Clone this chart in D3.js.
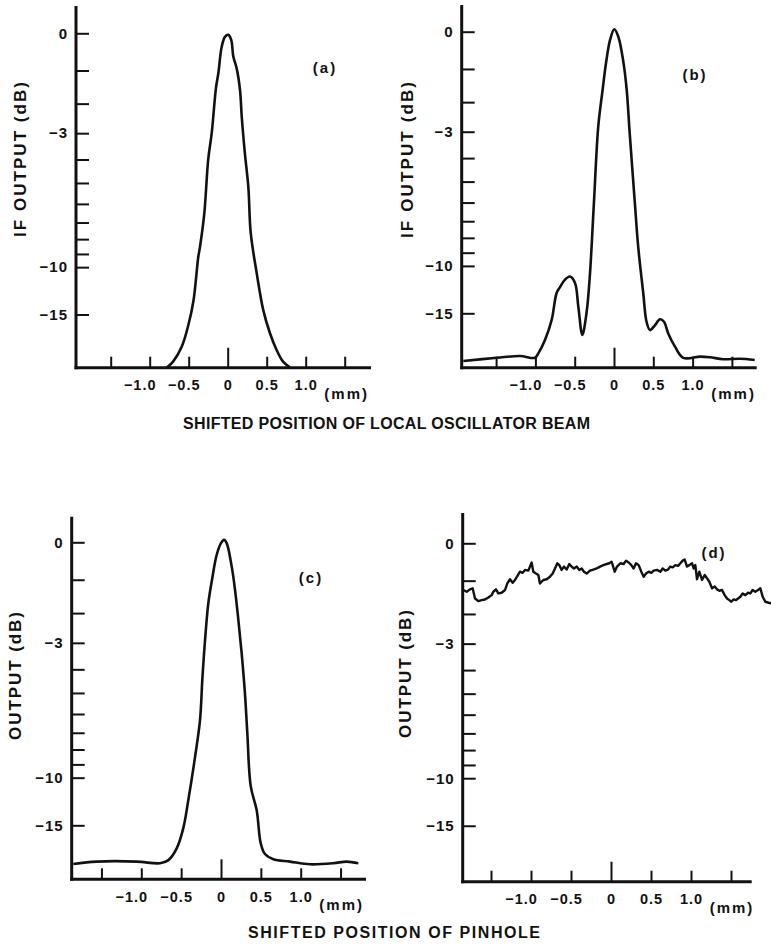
<!DOCTYPE html>
<html>
<head>
<meta charset="utf-8">
<script src="https://cdn.jsdelivr.net/npm/d3@7/dist/d3.min.js"></script>
<style>
  body { margin: 0; background: #fff; }
  text { font-family: "Liberation Sans", Arial, sans-serif; font-weight: bold; fill: #111; }
</style>
</head>
<body>
<div id="chart"></div>
<script>
const width = 771, height = 950;

// axis ticks
const dbTicks = [0, -1, -2, -3, -4, -5, -6, -7, -8, -9, -10, -15];
const dbLabels = [0, -3, -10, -15];
const mmTicks = [-1.5, -1, -0.5, 0, 0.5, 1, 1.5];
const mmLabels = [-1, -0.5, 0, 0.5, 1];

// (a) local oscillator beam, IF output
const posA = [-0.78, -0.70, -0.59, -0.505, -0.44, -0.377, -0.355, -0.30, -0.25, -0.205, -0.15, -0.12, -0.077, -0.035, 0.008, 0.045, 0.072, 0.115, 0.158, 0.18, 0.22, 0.265, 0.295, 0.372, 0.456, 0.542, 0.627, 0.71, 0.80];
const dbA = [-33, -28, -21.6, -16.7, -13.3, -9.2, -8.5, -6.5, -4.0, -3.0, -1.5, -1.08, -0.35, -0.09, -0.04, -0.17, -0.61, -0.94, -1.58, -2.43, -3.75, -5.2, -7.6, -10.5, -14.4, -18.2, -22.6, -28, -33];

// (b)
const posB = [-1.917, -1.49, -1.196, -1.005, -0.963, -0.878, -0.793, -0.73, -0.687, -0.626, -0.56, -0.496, -0.454, -0.403, -0.35, -0.308, -0.254, -0.2, -0.144, -0.102, -0.05, 0.004, 0.055, 0.119, 0.161, 0.2, 0.265, 0.308, 0.372, 0.414, 0.458, 0.52, 0.585, 0.636, 0.69, 0.776, 0.882, 1.094, 1.22, 1.39, 1.60, 1.79];
const dbB = [-28.3, -26.4, -25.5, -26.4, -24.3, -20, -16, -12.5, -11.9, -11.2, -10.9, -11.5, -14.1, -18.8, -15, -10.9, -5.9, -2.8, -1.6, -0.84, -0.21, 0.06, -0.13, -0.8, -1.6, -3.06, -6.0, -8.6, -12.5, -16.3, -17.8, -16.9, -15.9, -16.3, -18.5, -21.9, -26.4, -25.8, -26.1, -27.2, -26.9, -27.6];

// (c) pinhole
const posC = [-1.853, -1.56, -1.058, -0.765, -0.66, -0.556, -0.473, -0.41, -0.326, -0.263, -0.234, -0.2, -0.159, -0.109, -0.054, 0, 0.038, 0.071, 0.134, 0.176, 0.217, 0.26, 0.30, 0.33, 0.373, 0.448, 0.498, 0.552, 0.656, 0.866, 1.117, 1.409, 1.577, 1.723];
const dbC = [-23.7, -22.8, -22.8, -23.4, -22.3, -19.1, -15.4, -12.0, -8.5, -6.3, -4.4, -2.9, -1.69, -0.95, -0.32, -0.02, 0.06, -0.02, -0.63, -1.29, -2.2, -3.4, -5.0, -7.0, -10.7, -13.1, -18, -20.5, -22, -22.8, -23.8, -23.4, -22.8, -23.4];

// (d) noisy trace
const posD = [-1.846, -1.804, -1.763, -1.729, -1.7, -1.658, -1.617, -1.575, -1.533, -1.492, -1.471, -1.438, -1.408, -1.367, -1.325, -1.296, -1.263, -1.229, -1.2, -1.171, -1.138, -1.104, -1.075, -1.033, -1.013, -0.992, -0.971, -0.938, -0.908, -0.888, -0.846, -0.804, -0.763, -0.729, -0.7, -0.671, -0.646, -0.617, -0.588, -0.554, -0.521, -0.492, -0.463, -0.429, -0.396, -0.367, -0.338, -0.304, -0.263, -0.221, -0.179, -0.138, -0.096, -0.054, -0.021, 0.008,
  0.046, 0.075, 0.117, 0.158, 0.188, 0.221, 0.254, 0.283, 0.313, 0.346, 0.379, 0.408, 0.438, 0.471, 0.504, 0.533, 0.575, 0.617, 0.646, 0.679, 0.713, 0.742, 0.771, 0.804, 0.838, 0.867, 0.896, 0.921, 0.95, 0.979, 1.013, 1.033, 1.054, 1.075, 1.104, 1.138, 1.171, 1.2, 1.229, 1.263, 1.296, 1.325, 1.354, 1.388, 1.421, 1.45, 1.479, 1.504, 1.533, 1.563, 1.588, 1.617, 1.646, 1.679, 1.713, 1.742, 1.771, 1.804, 1.838, 1.867, 1.896, 1.929, 1.971, 2.004];
const dbD = [-1.27, -1.32, -1.25, -1.22, -1.52, -1.60, -1.57, -1.55, -1.49, -1.42, -1.32, -1.25, -1.37, -1.35, -1.27, -1.08, -0.96, -1.06, -0.98, -0.87, -0.75, -0.78, -0.70, -0.72, -0.61, -0.50, -0.75, -0.80, -0.84, -1.08, -0.98, -0.96, -0.89, -0.80, -0.66, -0.52, -0.57, -0.70, -0.61, -0.69, -0.54, -0.61, -0.66, -0.61, -0.70, -0.66, -0.75, -0.80, -0.72, -0.69, -0.66, -0.61, -0.57, -0.54, -0.52, -0.48,
  -0.75, -0.61, -0.52, -0.54, -0.45, -0.50, -0.57, -0.66, -0.52, -0.57, -0.75, -0.89, -0.80, -0.75, -0.78, -0.72, -0.70, -0.75, -0.66, -0.72, -0.69, -0.61, -0.63, -0.57, -0.59, -0.52, -0.45, -0.42, -0.61, -0.57, -0.52, -0.66, -0.57, -0.96, -0.75, -0.98, -0.84, -0.93, -1.03, -1.22, -1.17, -1.25, -1.29, -1.27, -1.42, -1.52, -1.57, -1.62, -1.55, -1.57, -1.52, -1.47, -1.37, -1.42, -1.35, -1.37, -1.27, -1.32, -1.27, -1.22, -1.47, -1.62, -1.65, -1.67];

// panel frames (pixels)
const panels = [
  { tag: "(a)", xs: posA, ys: dbA, left: 76, right: 371, top: 6, zero: 227.7, ppm: 78, base: 367.7, y0: 33.3, floor: 0.0222,
    ylab: "IF OUTPUT  (dB)", ylabX: 20, ylabY: 159.5, ylabLen: 155, tagX: 324, tagY: 68, smooth: true },
  { tag: "(b)", xs: posB, ys: dbB, left: 461.7, right: 756.7, top: 5, zero: 614, ppm: 78.6, base: 367.7, y0: 31.7, floor: 0.019,
    ylab: "IF OUTPUT  (dB)", ylabX: 407, ylabY: 160, ylabLen: 156, tagX: 694, tagY: 75, smooth: true },
  { tag: "(c)", xs: posC, ys: dbC, left: 71.7, right: 366, top: 516.7, zero: 221, ppm: 79.7, base: 879.3, y0: 542.3, floor: 0.021,
    ylab: "OUTPUT  (dB)", ylabX: 15, ylabY: 676, ylabLen: 128, tagX: 310, tagY: 578, smooth: true },
  { tag: "(d)", xs: posD, ys: dbD, left: 462.7, right: 751.7, top: 513, zero: 611, ppm: 80, base: 881.7, y0: 543.3, floor: 0.015,
    ylab: "OUTPUT  (dB)", ylabX: 405, ylabY: 674, ylabLen: 128, tagX: 713, tagY: 553, smooth: false }
];

const amp = db => Math.pow(10, db / 20);
const fmtMm = d => d === 0 ? "0" : (d < 0 ? "\u2212" : "") + Math.abs(d).toFixed(1);
const fmtDb = d => d === 0 ? "0" : "\u2212" + Math.abs(d);

const svg = d3.select("#chart").append("svg")
  .attr("width", width)
  .attr("height", height)
  .style("background", "#fff");

panels.forEach(p => {
  const x = d3.scaleLinear()
    .domain([(p.left - p.zero) / p.ppm, (p.right - p.zero) / p.ppm])
    .range([p.left, p.right]);
  const y = d3.scaleLinear().domain([p.floor, 1]).range([p.base, p.y0]);

  const g = svg.append("g");

  // y axis, ticks pointing inward
  const yAxis = g.append("g")
    .attr("transform", `translate(${p.left},0)`)
    .call(d3.axisLeft(y)
      .tickValues(dbTicks.map(amp))
      .tickSize(-13)
      .tickPadding(8)
      .tickFormat((a, i) => dbLabels.includes(dbTicks[i]) ? fmtDb(dbTicks[i]) : ""));
  yAxis.select(".domain").remove();
  yAxis.selectAll(".tick line").attr("stroke", "#111").attr("stroke-width", 2);
  yAxis.selectAll(".tick text").attr("font-size", 15).attr("font-family", null)
    .attr("letter-spacing", 1);

  // x axis
  const xAxis = g.append("g")
    .attr("transform", `translate(0,${p.base})`)
    .call(d3.axisBottom(x)
      .tickValues(mmTicks)
      .tickSize(-11)
      .tickPadding(12)
      .tickFormat(d => mmLabels.includes(d) ? fmtMm(d) : ""));
  xAxis.select(".domain").remove();
  xAxis.selectAll(".tick line").attr("stroke", "#111").attr("stroke-width", 2)
    .filter(d => d === 0).attr("y2", -20);
  xAxis.selectAll(".tick text").attr("font-size", 14.5).attr("font-family", null)
    .attr("letter-spacing", 1)
    .attr("dx", d => d < 0 ? 10 * d : 0);

  // heavy axis lines
  g.append("line")
    .attr("x1", p.left).attr("x2", p.left).attr("y1", p.top).attr("y2", p.base + 1.5)
    .attr("stroke", "#111").attr("stroke-width", 3);
  g.append("line")
    .attr("x1", p.left - 1.5).attr("x2", p.right).attr("y1", p.base).attr("y2", p.base)
    .attr("stroke", "#111").attr("stroke-width", 3);

  g.append("text")
    .attr("x", x(1) + 41).attr("y", p.base + 31)
    .attr("text-anchor", "middle").attr("font-size", 15).attr("letter-spacing", 2)
    .text("(mm)");

  g.append("text")
    .attr("x", p.tagX + 1).attr("y", p.tagY + 5)
    .attr("text-anchor", "middle").attr("font-size", 15).attr("letter-spacing", 2)
    .text(p.tag);

  g.append("text")
    .attr("transform", `translate(${p.ylabX + 6},${p.ylabY}) rotate(-90)`)
    .attr("text-anchor", "middle").attr("font-size", 17)
    .attr("textLength", p.ylabLen).attr("lengthAdjust", "spacing")
    .text(p.ylab);

  // the measured curve
  const line = d3.line()
    .x((d, i) => x(p.xs[i]))
    .y(d => y(amp(d)))
    .curve(p.smooth ? d3.curveCatmullRom.alpha(0.5) : d3.curveLinear);
  g.append("path")
    .attr("d", line(p.ys))
    .attr("fill", "none")
    .attr("stroke", "#111")
    .attr("stroke-width", p.smooth ? 2.6 : 2.4)
    .attr("stroke-linejoin", "round");
});

svg.append("text")
  .attr("x", 386.5).attr("y", 429)
  .attr("text-anchor", "middle").attr("font-size", 16)
  .attr("textLength", 407).attr("lengthAdjust", "spacing")
  .text("SHIFTED POSITION OF LOCAL OSCILLATOR BEAM");

svg.append("text")
  .attr("x", 394).attr("y", 938)
  .attr("text-anchor", "middle").attr("font-size", 16)
  .attr("textLength", 292).attr("lengthAdjust", "spacing")
  .text("SHIFTED POSITION OF PINHOLE");
</script>
</body>
</html>
